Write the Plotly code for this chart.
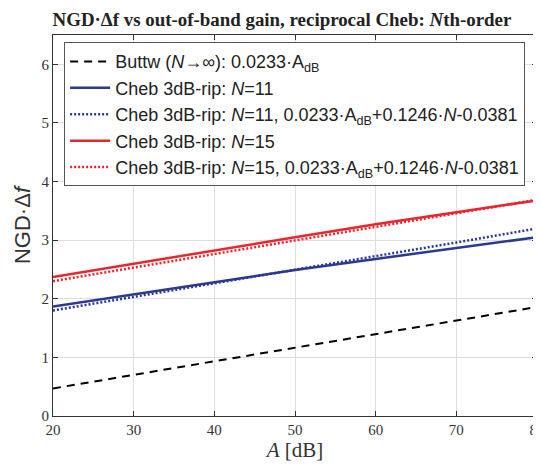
import plotly.graph_objects as go

A_dB = [20, 30, 40, 50, 60, 70, 80]
buttw = [0.47, 0.70, 0.93, 1.17, 1.40, 1.63, 1.86]
cheb11 = [1.87, 2.08, 2.29, 2.49, 2.68, 2.87, 3.05]
cheb11_fit = [1.80, 2.03, 2.27, 2.50, 2.73, 2.96, 3.20]
cheb15 = [2.37, 2.60, 2.83, 3.05, 3.27, 3.48, 3.68]
cheb15_fit = [2.30, 2.53, 2.76, 3.00, 3.23, 3.46, 3.69]

blue = "#2b3990"
red = "#e8262d"
sans = "Liberation Sans, Arial, sans-serif"
serif = "Liberation Serif, Times New Roman, serif"

fig = go.Figure()
fig.add_trace(go.Scatter(x=A_dB, y=buttw, mode="lines",
                         line=dict(color="black", width=2, dash="8px,6px"),
                         name="Buttw (<i>N</i>→∞): 0.0233·A<sub>dB</sub>"))
fig.add_trace(go.Scatter(x=A_dB, y=cheb11, mode="lines",
                         line=dict(color=blue, width=2.5),
                         name="Cheb 3dB-rip: <i>N</i>=11"))
fig.add_trace(go.Scatter(x=A_dB, y=cheb11_fit, mode="lines",
                         line=dict(color=blue, width=2.5, dash="2px,2px"),
                         name="Cheb 3dB-rip: <i>N</i>=11, 0.0233·A<sub>dB</sub>+0.1246·<i>N</i>-0.0381"))
fig.add_trace(go.Scatter(x=A_dB, y=cheb15, mode="lines",
                         line=dict(color=red, width=2.5),
                         name="Cheb 3dB-rip: <i>N</i>=15"))
fig.add_trace(go.Scatter(x=A_dB, y=cheb15_fit, mode="lines",
                         line=dict(color=red, width=2.5, dash="2px,2px"),
                         name="Cheb 3dB-rip: <i>N</i>=15, 0.0233·A<sub>dB</sub>+0.1246·<i>N</i>-0.0381"))

axis_common = dict(showgrid=True, gridcolor="#dedede", gridwidth=1,
                   showline=True, linecolor="#333333", linewidth=1, mirror="ticks",
                   ticks="inside", ticklen=5, tickcolor="#333333",
                   tickfont=dict(family=serif, size=15, color="#333333"),
                   zeroline=False, automargin=False, ticklabeloverflow="allow")

# the page body adds an 8px offset, so the figure is sized 533x456
fig.update_layout(
    width=533, height=456,
    margin=dict(l=45, r=4, t=27, b=48),
    plot_bgcolor="white", paper_bgcolor="white",
    title=dict(text="<b>NGD·Δf vs out-of-band gain, reciprocal Cheb: <i>N</i>th-order</b>",
               font=dict(family=serif, size=18.9, color="#222222"),
               x=0.514, xanchor="center", y=0.99, yanchor="top"),
    xaxis=dict(range=[20, 80], tickvals=A_dB, **axis_common,
               title=dict(text="<i>A</i> [dB]", font=dict(family=serif, size=21, color="#333333"),
                          standoff=4)),
    yaxis=dict(range=[0, 6.5], tickvals=[0, 1, 2, 3, 4, 5, 6], **axis_common,
               title=dict(text="NGD·Δ<i>f</i>", font=dict(family=sans, size=22, color="#333333"),
                          standoff=4)),
    legend=dict(x=0.023, y=0.981, xanchor="left", yanchor="top",
                bgcolor="white", bordercolor="#555555", borderwidth=1,
                font=dict(family=sans, size=18, color="#222222"),
                tracegroupgap=0, itemwidth=40),
    showlegend=True,
)

fig.write_html("out.html")
